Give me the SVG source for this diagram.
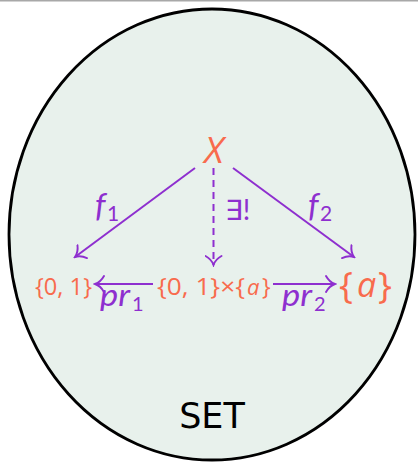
<svg xmlns="http://www.w3.org/2000/svg" width="418" height="463" viewBox="0 0 418 463">
<defs>
<marker id="to" viewBox="-12 -9 14 18" markerWidth="14" markerHeight="18" refX="0" refY="0" orient="auto" markerUnits="userSpaceOnUse">
<path d="M-9,-8 C-6.5,-3.5 -3,-1 0,0 C-3,1 -6.5,3.5 -9,8" fill="none" stroke="#8e2fcf" stroke-width="1.9" stroke-linecap="round"/>
</marker>
<style>
.obj{fill:#f86b4d;font-family:"Open Sans","DejaVu Sans",sans-serif}
.lab{fill:#8e2fcf;font-family:Lato,"DejaVu Sans",sans-serif}
.it{font-style:italic}
.arr{fill:none;stroke:#8e2fcf;stroke-width:2;marker-end:url(#to)}
</style>
</defs>
<rect x="0" y="0" width="418" height="1.5" fill="#a8a8a8"/>
<g id="set">
<ellipse cx="212" cy="234.5" rx="203" ry="225.5" fill="#e8f1ec" stroke="#000" stroke-width="2.8"/>
<text x="212" y="428" text-anchor="middle" font-family="DejaVu Sans,sans-serif" font-size="35" fill="#000">SET</text>
</g>
<g id="connectors">
<line class="arr" x1="195" y1="168" x2="75" y2="257"/>
<line class="arr" x1="233" y1="168" x2="354" y2="257"/>
<line class="arr" x1="213.5" y1="168" x2="213.5" y2="265" stroke-dasharray="7 5"/>
<line class="arr" x1="153" y1="284" x2="95" y2="284"/>
<line class="arr" x1="273" y1="284" x2="335" y2="284"/>
<text class="lab it" x="95" y="217" font-size="33">f</text>
<text class="lab" x="107" y="221" font-size="21">1</text>
<text class="lab it" x="308" y="217" font-size="33">f</text>
<text class="lab" x="320" y="221" font-size="21">2</text>
<text class="lab" x="225" y="220" font-size="28">∃!</text>
<text class="lab it" x="100" y="306" font-size="30" textLength="30" lengthAdjust="spacingAndGlyphs">pr</text>
<text class="lab" x="132" y="311" font-size="20">1</text>
<text class="lab it" x="282" y="306" font-size="30" textLength="30" lengthAdjust="spacingAndGlyphs">pr</text>
<text class="lab" x="314" y="311" font-size="20">2</text>
</g>
<g id="X"><text class="obj it" x="214" y="163" text-anchor="middle" font-size="37">X</text></g>
<g id="B"><text class="obj" x="35" y="295" font-size="23" textLength="57" lengthAdjust="spacingAndGlyphs">{0, 1}</text></g>
<g id="P">
<text class="obj" x="157" y="295" font-size="23" textLength="88" lengthAdjust="spacingAndGlyphs">{0, 1}×{</text>
<text class="obj it" x="247" y="295" font-size="22">a</text>
<text class="obj" x="262" y="295" font-size="23">}</text>
</g>
<g id="A">
<text class="obj" x="339" y="298" font-size="37">{</text>
<text class="obj it" x="357" y="297" font-size="34">a</text>
<text class="obj" x="378" y="298" font-size="37">}</text>
</g>
</svg>
